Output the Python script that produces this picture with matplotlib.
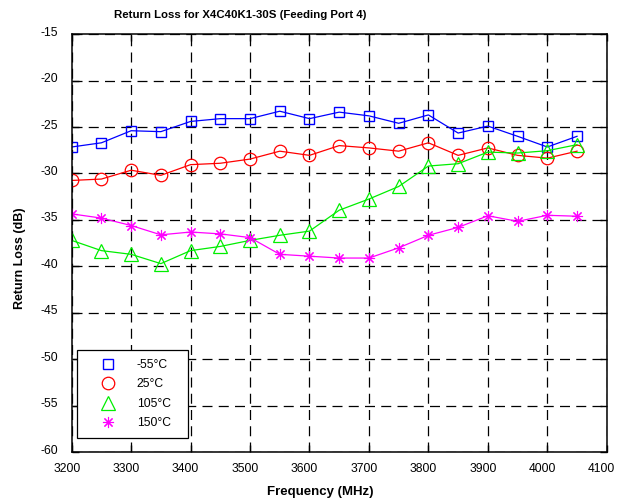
import matplotlib
matplotlib.use('Agg')
import matplotlib.pyplot as plt
import matplotlib.transforms as mtransforms

plt.rcParams['font.family'] = ['Liberation Sans', 'DejaVu Sans']
plt.rcParams['axes.unicode_minus'] = False

# frequency points (MHz)
freq = [3200, 3250, 3300, 3350, 3400, 3450, 3500, 3550, 3600,
        3650, 3700, 3750, 3800, 3850, 3900, 3950, 4000, 4050]

# return loss (dB) for each temperature
rl_m55 = [-27.15, -26.7, -25.4, -25.5, -24.4, -24.1, -24.1, -23.3, -24.1,
          -23.4, -23.8, -24.6, -23.7, -25.65, -24.9, -26.0, -27.15, -26.0]
rl_25 = [-30.75, -30.6, -29.65, -30.2, -29.05, -28.9, -28.45, -27.6, -28.05,
         -27.0, -27.25, -27.6, -26.7, -28.05, -27.25, -28.05, -28.35, -27.6]
rl_105 = [-37.2, -38.3, -38.7, -39.7, -38.3, -37.85, -37.2, -36.65, -36.2,
          -33.95, -32.75, -31.4, -29.2, -28.95, -27.7, -27.8, -27.55, -26.9]
rl_150 = [-34.35, -34.8, -35.6, -36.6, -36.3, -36.5, -36.9, -38.7, -38.9,
          -39.1, -39.1, -38.0, -36.65, -35.8, -34.55, -35.15, -34.5, -34.6]

labels = ['-55°C', '25°C', '105°C', '150°C']
xticks = list(range(3200, 4101, 100))
yticks = list(range(-60, -14, 5))

fig = plt.figure(figsize=(6.31, 5.04), dpi=100)
ax = fig.add_axes([0.1136, 0.1026, 0.848, 0.8298])

series = [
    (rl_m55, '#0000ff', 's', 7.5, 'none', 1.0),
    (rl_25, '#ff0000', 'o', 9, 'none', 0.9),
    (rl_105, '#00ee00', '^', 9.5, 'none', 0.9),
    (rl_150, '#ff00ff', (8, 2, 0), 8, '#ff00ff', 0.8),
]
handles = []
for (vals, col, mk, ms, fc, mw), lab in zip(series, labels):
    ax.plot(freq, vals, color=col, lw=0.9)
    h, = ax.plot(freq, vals, ls='none', marker=mk, ms=ms, mfc=fc,
                 mec=col, mew=mw, label=lab)
    handles.append(h)

ax.set_xlim(3200, 4100)
ax.set_ylim(-60, -15)
ax.set_xticks(xticks)
ax.set_yticks(yticks)
ax.grid(True, color='black', ls=(0, (8, 5)), lw=0.9)
ax.tick_params(direction='in', length=5, width=1, top=True, right=True,
               labelsize=8.7, colors='black', pad=8)
ax.tick_params(axis='y', pad=9.8)
for s in ax.spines.values():
    s.set_linewidth(1.1)

# shift tick labels slightly like the reference
offset = mtransforms.ScaledTranslation(-5 / 100, 0, fig.dpi_scale_trans)
for lbl in ax.get_xticklabels():
    lbl.set_transform(lbl.get_transform() + offset)
offy = mtransforms.ScaledTranslation(0, 3 / 100, fig.dpi_scale_trans)
for lbl in ax.get_yticklabels():
    lbl.set_transform(lbl.get_transform() + offy)

leg = ax.legend(handles=handles, loc='lower left',
                bbox_to_anchor=(0.0107, 0.0345, 0.207, 0.195),
                mode='expand', frameon=True, fancybox=False, fontsize=8.7,
                handlelength=3.7, handletextpad=0.5, borderpad=0.7,
                labelspacing=0.62, borderaxespad=0)
leg.get_frame().set_edgecolor('black')
leg.get_frame().set_linewidth(0.9)
leg.get_frame().set_alpha(1)

fig.text(240 / 631, 1 - 15 / 504, 'Return Loss for X4C40K1-30S (Feeding Port 4)',
         ha='center', va='center', fontsize=8.2, fontweight='bold')
fig.text(320 / 631, 1 - 492 / 504, 'Frequency (MHz)', ha='center', va='center',
         fontsize=9.5, fontweight='bold')
fig.text(20 / 631, 1 - 258 / 504, 'Return Loss (dB)', ha='center', va='center',
         rotation=90, fontsize=9, fontweight='bold')

fig.savefig('out.png', dpi=100)
